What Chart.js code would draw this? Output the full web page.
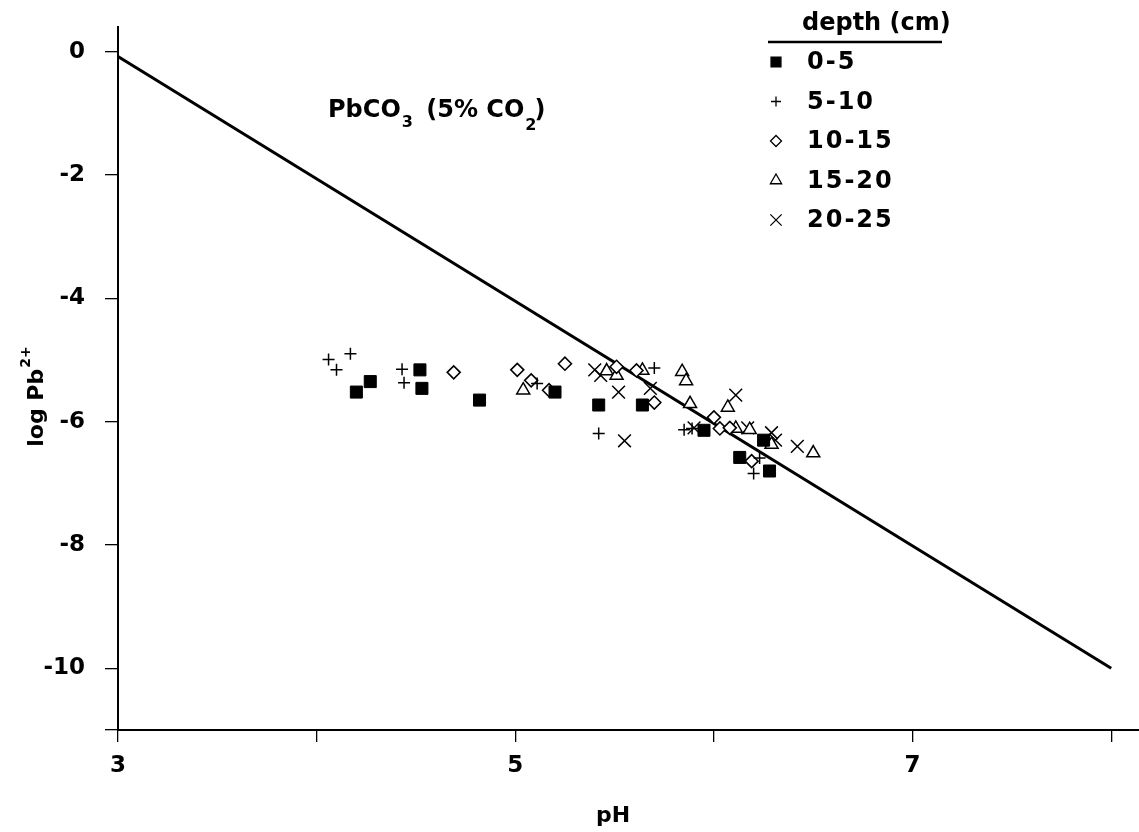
<!DOCTYPE html>
<html>
<head>
<meta charset="utf-8">
<script src="https://cdn.jsdelivr.net/npm/chart.js@4.4.0/dist/chart.umd.min.js"></script>
<style>
  html, body { margin: 0; padding: 0; background: #fff; }
  canvas { display: block; }
</style>
</head>
<body>
<canvas id="pbChart" width="1139" height="832"></canvas>
<script>
// depth groups (legend labels)
let depthLabels = ['0-5', '5-10', '10-15', '15-20', '20-25'];

// pH values and log Pb2+ for each depth group
let ph0to5 = [4.20, 4.27, 4.52, 4.53, 4.82, 5.20, 5.42, 5.64, 5.95, 6.13, 6.25, 6.28];
let log0to5 = [-5.52, -5.35, -5.16, -5.46, -5.65, -5.52, -5.73, -5.73, -6.14, -6.58, -6.30, -6.80];

let ph5to10 = [4.06, 4.10, 4.17, 4.43, 4.44, 5.11, 5.42, 5.70, 5.85, 5.89, 6.23, 6.20];
let log5to10 = [-4.99, -5.16, -4.90, -5.15, -5.37, -5.38, -6.19, -5.13, -6.13, -6.11, -6.59, -6.84];

let ph10to15 = [4.69, 5.01, 5.08, 5.17, 5.25, 5.51, 5.61, 5.70, 6.00, 6.03, 6.08, 6.19];
let log10to15 = [-5.20, -5.16, -5.33, -5.49, -5.06, -5.11, -5.17, -5.69, -5.93, -6.11, -6.10, -6.64];

let ph15to20 = [5.04, 5.46, 5.51, 5.64, 5.84, 5.86, 5.88, 6.07, 6.11, 6.18, 6.29, 6.50];
let log15to20 = [-5.49, -5.18, -5.25, -5.17, -5.19, -5.34, -5.71, -5.77, -6.11, -6.13, -6.37, -6.51];

let ph20to25 = [5.40, 5.43, 5.52, 5.68, 5.55, 6.11, 5.90, 6.17, 6.29, 6.31, 6.42];
let log20to25 = [-5.16, -5.25, -5.52, -5.46, -6.31, -5.57, -6.10, -6.10, -6.18, -6.30, -6.40];

// PbCO3 solubility line (5% CO2)
let linePh = [3, 8];
let lineLog = [-0.08, -10];

let xTicks = [3, 4, 5, 6, 7, 8];
let xTickLabels = ['3', '', '5', '', '7', ''];
let yTicks = [0, -2, -4, -6, -8, -10, -11];
let yTickLabels = ['0', '-2', '-4', '-6', '-8', '-10', ''];

function toPoints(xs, ys) {
  return xs.map((x, i) => ({ x: x, y: ys[i] }));
}

let fontFamily = '"DejaVu Sans", Verdana, sans-serif';

function drawMarker(ctx, style, x, y, r, filled) {
  ctx.save();
  ctx.strokeStyle = '#000';
  ctx.fillStyle = filled ? '#000' : '#fff';
  ctx.lineWidth = 1.3;
  Chart.helpers.drawPoint(ctx, { pointStyle: style, rotation: 0, radius: r, borderWidth: 1.3 }, x, y);
  ctx.restore();
}

// texts: annotation, legend and axis titles
let textPlugin = {
  id: 'textPlugin',
  afterDraw(chart) {
    let ctx = chart.ctx;
    ctx.save();
    ctx.fillStyle = '#000';
    ctx.textBaseline = 'alphabetic';

    // PbCO3 (5% CO2)
    ctx.font = 'bold 24px ' + fontFamily;
    ctx.textAlign = 'left';
    let x = 328;
    let y = 117;
    ctx.fillText('PbCO', x, y);
    x += ctx.measureText('PbCO').width;
    ctx.font = 'bold 16px ' + fontFamily;
    ctx.fillText('3', x + 1, y + 10);
    x += ctx.measureText('3').width + 2;
    ctx.font = 'bold 24px ' + fontFamily;
    ctx.fillText(' (5% CO', x + 4, y);
    x += ctx.measureText(' (5% CO').width + 4;
    ctx.font = 'bold 16px ' + fontFamily;
    ctx.fillText('2', x + 1, y + 13);
    x += ctx.measureText('2').width - 1;
    ctx.font = 'bold 24px ' + fontFamily;
    ctx.fillText(')', x, y);

    // legend
    ctx.font = 'bold 24px ' + fontFamily;
    ctx.fillText('depth (cm)', 802, 30);
    ctx.beginPath();
    ctx.lineWidth = 2.5;
    ctx.strokeStyle = '#000';
    ctx.moveTo(768, 42);
    ctx.lineTo(942, 42);
    ctx.stroke();

    ctx.textBaseline = 'middle';
    chart.data.datasets.forEach((ds, i) => {
      if (!ds.inLegend) return;
      let rowY = 62 + i * 39.5;
      drawMarker(ctx, ds.pointStyle, 776, rowY, ds.legendRadius, ds.pointBackgroundColor === '#000');
      ctx.fillStyle = '#000';
      ctx.font = 'bold 24px ' + fontFamily;
      ctx.letterSpacing = '2px';
      ctx.fillText(ds.label, 807, rowY + 1);
      ctx.letterSpacing = '0px';
    });

    // x axis title
    ctx.textAlign = 'center';
    ctx.textBaseline = 'middle';
    ctx.font = 'bold 22px ' + fontFamily;
    ctx.fillText('pH', 613, 816);

    // y axis title, rotated
    ctx.translate(43, 397);
    ctx.rotate(-Math.PI / 2);
    ctx.textAlign = 'left';
    ctx.textBaseline = 'alphabetic';
    let t1 = 'log Pb';
    ctx.font = 'bold 14px ' + fontFamily;
    let supW = ctx.measureText('2+').width;
    ctx.font = 'bold 22px ' + fontFamily;
    let w1 = ctx.measureText(t1).width;
    let start = -(w1 + supW) / 2;
    ctx.fillText(t1, start, 0);
    ctx.font = 'bold 14px ' + fontFamily;
    ctx.fillText('2+', start + w1 + 1, -13);

    ctx.restore();
  }
};

let ctx = document.getElementById('pbChart').getContext('2d');

new Chart(ctx, {
  type: 'scatter',
  data: {
    datasets: [{
      label: depthLabels[0],
      data: toPoints(ph0to5, log0to5),
      pointStyle: 'rect',
      pointRadius: 8.5,
      legendRadius: 7,
      pointBackgroundColor: '#000',
      pointBorderColor: '#000',
      pointBorderWidth: 1,
      inLegend: true
    }, {
      label: depthLabels[1],
      data: toPoints(ph5to10, log5to10),
      pointStyle: 'cross',
      pointRadius: 6,
      legendRadius: 5,
      pointBackgroundColor: '#fff',
      pointBorderColor: '#000',
      pointBorderWidth: 1.5,
      inLegend: true
    }, {
      label: depthLabels[2],
      data: toPoints(ph10to15, log10to15),
      pointStyle: 'rectRot',
      pointRadius: 6.5,
      legendRadius: 5.5,
      pointBackgroundColor: '#fff',
      pointBorderColor: '#000',
      pointBorderWidth: 1.6,
      inLegend: true
    }, {
      label: depthLabels[3],
      data: toPoints(ph15to20, log15to20),
      pointStyle: 'triangle',
      pointRadius: 7.5,
      legendRadius: 6.5,
      pointBackgroundColor: '#fff',
      pointBorderColor: '#000',
      pointBorderWidth: 1.5,
      inLegend: true
    }, {
      label: depthLabels[4],
      data: toPoints(ph20to25, log20to25),
      pointStyle: 'crossRot',
      pointRadius: 9,
      legendRadius: 8,
      pointBackgroundColor: '#fff',
      pointBorderColor: '#000',
      pointBorderWidth: 1.5,
      inLegend: true
    }, {
      type: 'line',
      label: 'PbCO3',
      data: toPoints(linePh, lineLog),
      borderColor: '#000',
      borderWidth: 3,
      pointRadius: 0,
      fill: false,
      showLine: true,
      inLegend: false
    }]
  },
  options: {
    responsive: false,
    animation: false,
    layout: {
      autoPadding: false,
      padding: { top: 27, right: 0, left: 0, bottom: 0 }
    },
    plugins: {
      legend: { display: false },
      tooltip: { enabled: false }
    },
    scales: {
      x: {
        type: 'linear',
        min: 3,
        max: 8.14,
        afterBuildTicks: scale => {
          scale.ticks = xTicks.map(v => ({ value: v }));
        },
        afterFit: scale => {
          scale.height = 102;
          scale.paddingLeft = 0;
          scale.paddingRight = 0;
        },
        ticks: {
          autoSkip: false,
          maxRotation: 0,
          padding: 10,
          color: '#000',
          font: { family: fontFamily, size: 23, weight: 'bold' },
          callback: (value) => xTickLabels[xTicks.indexOf(value)]
        },
        grid: {
          drawOnChartArea: false,
          drawTicks: true,
          tickLength: 12,
          color: '#000',
          lineWidth: 1.3
        },
        border: { color: '#000', width: 2 }
      },
      y: {
        type: 'linear',
        min: -11,
        max: 0.4,
        afterBuildTicks: scale => {
          scale.ticks = yTicks.map(v => ({ value: v }));
        },
        afterFit: scale => {
          scale.width = 118;
          scale.paddingTop = 0;
          scale.paddingBottom = 0;
        },
        ticks: {
          autoSkip: false,
          padding: 20,
          color: '#000',
          font: { family: fontFamily, size: 23, weight: 'bold' },
          callback: (value) => yTickLabels[yTicks.indexOf(value)]
        },
        grid: {
          drawOnChartArea: false,
          drawTicks: true,
          tickLength: 13,
          color: '#000',
          lineWidth: 1.3
        },
        border: { color: '#000', width: 2 }
      }
    }
  },
  plugins: [textPlugin]
});
</script>
</body>
</html>
